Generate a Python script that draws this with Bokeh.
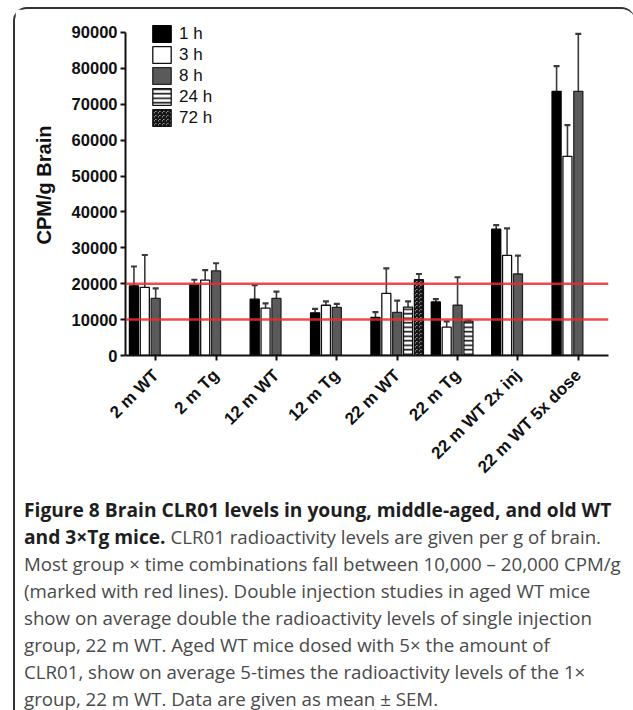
from bokeh.plotting import figure
from bokeh.models import (ColumnDataSource, FactorRange, Range1d, Span, Legend, LegendItem,
                          Div, FixedTicker, NumeralTickFormatter)
from bokeh.transform import dodge
from bokeh.layouts import column
from bokeh.embed import file_html
from bokeh.resources import INLINE

groups = ["2 m WT", "2 m Tg", "12 m WT", "12 m Tg", "22 m WT", "22 m Tg",
          "22 m WT 2x inj", "22 m WT 5x dose"]

h1 = [19400, 19800, 15700, 11900, 10600, 14900, 35200, 73600]
h1_sem = [5400, 1300, 3900, 1100, 1500, 800, 1100, 7000]
h3 = [19000, 21000, 13200, 14000, 17300, 7900, 27900, 55500]
h3_sem = [9000, 2800, 1300, 1100, 7000, 1600, 7500, 8700]
h8 = [15900, 23600, 15900, 13400, 12000, 14000, 22700, 73600]
h8_sem = [2800, 2100, 1900, 1000, 3300, 7800, 5100, 16000]
h24_groups = ["22 m WT", "22 m Tg"]
h24 = [13500, 9600]
h24_sem = [1600, 200]
h72_groups = ["22 m WT"]
h72 = [21100]
h72_sem = [1600]

series_labels = ["1 h", "3 h", "8 h", "24 h", "72 h"]
y_ticks = [0, 10000, 20000, 30000, 40000, 50000, 60000, 70000, 80000, 90000]
ref_lines = [10000, 20000]

p = figure(x_range=FactorRange(factors=groups), y_range=Range1d(0, 95000),
           width=610, height=480, output_backend="svg", toolbar_location=None,
           min_border_left=110, min_border_right=17, min_border_top=5, min_border_bottom=134)
p.outline_line_color = None
p.xgrid.grid_line_color = None
p.ygrid.grid_line_color = None

offsets = [-0.36, -0.18, 0.0, 0.18, 0.36]
bw = 0.15
styles = [
    dict(fill_color="#000000", line_color="#000000"),
    dict(fill_color="#ffffff", line_color="#111111"),
    dict(fill_color="#5a5a5a", line_color="#222222"),
    dict(fill_color="#ffffff", line_color="#111111", hatch_pattern="horizontal_line",
         hatch_color="#111111", hatch_scale=4.5, hatch_weight=1.6),
    dict(fill_color="#ffffff", line_color="#111111", hatch_pattern="criss_cross",
         hatch_color="#111111", hatch_scale=4.0, hatch_weight=1.4),
]
data = [(groups, h1, h1_sem), (groups, h3, h3_sem), (groups, h8, h8_sem),
        (h24_groups, h24, h24_sem), (h72_groups, h72, h72_sem)]

renderers = []
for (g, v, s), off, st in zip(data, offsets, styles):
    src = ColumnDataSource(dict(g=g, v=v, up=[a + b for a, b in zip(v, s)]))
    xs = dodge("g", off, range=p.x_range)
    p.segment(x0=xs, y0="v", x1=xs, y1="up", source=src, line_color="#3a3a3a", line_width=1.6)
    p.scatter(x=xs, y="up", source=src, marker="dash", size=6, line_color="#3a3a3a", line_width=2.2)
    r = p.vbar(x=xs, top="v", bottom=0, width=bw, source=src, line_width=1.3, **st)
    renderers.append(r)

for yv in ref_lines:
    p.add_layout(Span(location=yv, dimension="width", line_color="#ee2a2f",
                      line_width=2.5, line_alpha=0.85))

legend = Legend(items=[LegendItem(label=l, renderers=[r]) for l, r in zip(series_labels, renderers)],
                location=(25, 227), orientation="vertical")
legend.glyph_width = 23
legend.glyph_height = 21
legend.spacing = 0
legend.padding = 0
legend.margin = 0
legend.label_standoff = 6
legend.label_text_font = "Liberation Sans"
legend.label_text_font_size = "17px"
legend.label_text_color = "#111111"
legend.label_height = 21
legend.border_line_color = None
legend.background_fill_alpha = 0
p.add_layout(legend, "center")

for ax in (p.xaxis[0], p.yaxis[0]):
    ax.axis_line_width = 2
    ax.axis_line_color = "#111111"
    ax.major_tick_line_width = 2
    ax.major_tick_line_color = "#111111"
    ax.major_tick_out = 5
    ax.major_tick_in = 0
    ax.minor_tick_line_color = None
    ax.major_label_text_font = "Liberation Sans"
    ax.major_label_text_font_style = "bold"
    ax.major_label_text_color = "#111111"

p.yaxis.bounds = (0, 90000)
p.yaxis.ticker = FixedTicker(ticks=y_ticks)
p.yaxis.formatter = NumeralTickFormatter(format="0")
p.yaxis.major_label_text_font_size = "16.5px"
p.yaxis.major_label_standoff = 3
p.yaxis.axis_label = "CPM/g Brain"
p.yaxis.axis_label_text_font = "Liberation Sans"
p.yaxis.axis_label_text_font_style = "bold"
p.yaxis.axis_label_text_font_size = "20px"
p.yaxis.axis_label_text_color = "#111111"
p.yaxis.axis_label_standoff = 14

p.xaxis.major_label_orientation = 0.785398
p.xaxis.major_label_text_font_size = "17px"
p.xaxis.major_label_standoff = 12

caption_html = (
    '<div style="font-family:\'Open Sans\',sans-serif;font-size:18.7px;line-height:27px;'
    'color:#4a4a4a;white-space:nowrap;padding:2px 0 0 4px;">'
    '<b style="color:#1e1e1e;font-size:19.2px;">Figure 8 Brain CLR01 levels in young, middle-aged, and old WT<br>'
    'and 3\u00d7Tg mice.</b> CLR01 radioactivity levels are given per g of brain.<br>'
    'Most group \u00d7 time combinations fall between 10,000 \u2013 20,000 CPM/g<br>'
    '(marked with red lines). Double injection studies in aged WT mice<br>'
    'show on average double the radioactivity levels of single injection<br>'
    'group, 22 m WT. Aged WT mice dosed with 5\u00d7 the amount of<br>'
    'CLR01, show on average 5-times the radioactivity levels of the 1\u00d7<br>'
    'group, 22 m WT. Data are given as mean \u00b1 SEM.</div>'
)
cap = Div(text=caption_html, width=610, height=219)

lay = column(p, cap, styles={"border-left": "2px solid #333333", "border-top": "2px solid #333333",
                             "border-top-left-radius": "14px", "border-top-right-radius": "14px",
                             "margin-left": "13px", "margin-top": "7px"})

open("out.html", "w").write(file_html(lay, INLINE))
